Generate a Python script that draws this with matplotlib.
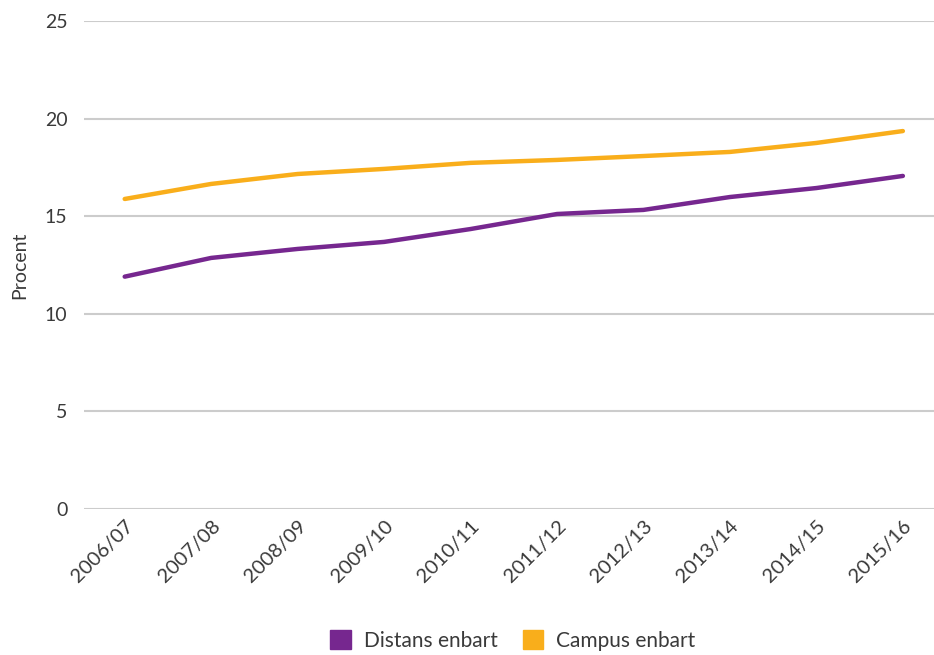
import matplotlib.pyplot as plt
from matplotlib.patches import Patch

plt.rcParams['font.family'] = ['Lato', 'DejaVu Sans']

years = ['2006/07', '2007/08', '2008/09', '2009/10', '2010/11',
         '2011/12', '2012/13', '2013/14', '2014/15', '2015/16']
distans = [11.9, 12.86, 13.32, 13.68, 14.34, 15.11, 15.32, 15.98, 16.44, 17.06]
campus = [15.88, 16.65, 17.16, 17.42, 17.73, 17.88, 18.08, 18.29, 18.75, 19.36]

purple = '#76278f'
orange = '#f9ae1b'
textcol = '#3a3a3a'

fig = plt.figure(figsize=(9.34, 6.55), dpi=100)
ax = fig.add_axes([0.09, 0.223, 0.91, 0.745])

x = range(len(years))
ax.plot(x, distans, color=purple, lw=3.2, solid_capstyle='round', zorder=3)
ax.plot(x, campus, color=orange, lw=3.2, solid_capstyle='round', zorder=3)

ax.set_ylim(0, 25)
ax.set_xlim(-0.47, 9.36)
ax.set_yticks([0, 5, 10, 15, 20, 25])
ax.grid(axis='y', color='#cccccc', lw=1.5)
ax.set_axisbelow(True)
for s in ax.spines.values():
    s.set_visible(False)
ax.tick_params(axis='y', length=0, labelsize=14, labelcolor=textcol, pad=12)
ax.tick_params(axis='x', length=0, pad=6)
ax.set_xticks(list(x))
ax.set_xticklabels(years, rotation=45, ha='right', rotation_mode='anchor',
                   fontsize=14.5, color=textcol)
ax.set_ylabel('Procent', fontsize=14, color=textcol, labelpad=12)

handles = [Patch(color=purple, label='Distans enbart'),
           Patch(color=orange, label='Campus enbart')]
leg = fig.legend(handles=handles, loc='lower center', bbox_to_anchor=(0.549, -0.022),
                 ncol=2, frameon=False, fontsize=15, handlelength=1.0,
                 handleheight=1.0, handletextpad=0.6, columnspacing=1.2)
for t in leg.get_texts():
    t.set_color(textcol)

fig.savefig('out.png', dpi=100)
